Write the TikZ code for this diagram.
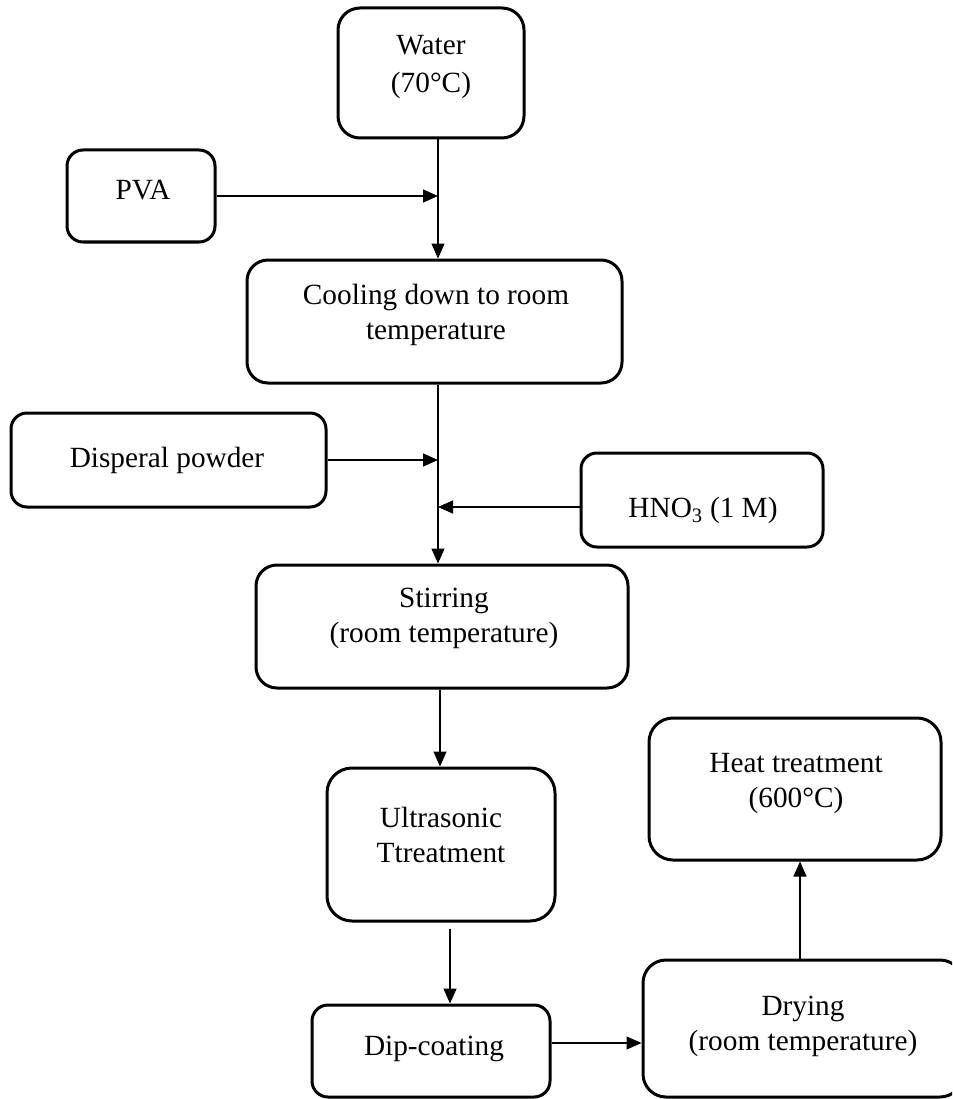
\documentclass[tikz,border=0pt]{standalone}
\usepackage{fontspec}
\setmainfont{Liberation Serif}
\usetikzlibrary{arrows.meta}
\begin{document}
\begin{tikzpicture}[x=1pt,y=-1pt,
  box/.style={draw, line width=3pt, inner sep=0pt},
  lbl/.style={font=\fontsize{29.3}{35}\selectfont, align=center, inner sep=0pt, anchor=base},
  arr/.style={line width=1.2pt, -{Triangle[length=15pt,width=13pt]}}]
\useasboundingbox (0,0) rectangle (952,1099);
\clip (0,0) rectangle (952,1099);
% boxes
\node[box, minimum width=186, minimum height=130, rounded corners=22] (water) at (431,73) {};
\node[box, minimum width=148, minimum height=92, rounded corners=16] (pva) at (141,196) {};
\node[box, minimum width=375, minimum height=123, rounded corners=21] (cooling) at (434.5,321.5) {};
\node[box, minimum width=315, minimum height=94, rounded corners=16] (disperal) at (168.5,460) {};
\node[box, minimum width=242, minimum height=94, rounded corners=16] (hno3) at (702,500) {};
\node[box, minimum width=372, minimum height=123, rounded corners=21] (stirring) at (442,626.5) {};
\node[box, minimum width=228, minimum height=153, rounded corners=25] (ultra) at (441,844.5) {};
\node[box, minimum width=292, minimum height=142, rounded corners=24] (heat) at (795,789) {};
\node[box, minimum width=238, minimum height=92, rounded corners=16] (dip) at (431,1051) {};
\node[box, minimum width=320, minimum height=137, rounded corners=23] (drying) at (803,1028.5) {};
% texts (anchor base = last line baseline)
\node[lbl] (waterT) at (431,93) {Water\\[3pt](70°C)};
\node[lbl] (pvaT) at (143,200) {PVA};
\node[lbl] (coolingT) at (436,339) {Cooling down to room\\temperature};
\node[lbl] (disperalT) at (167,467) {Disperal powder};
\node[lbl] (hno3T) at (703,517) {HNO\textsubscript{3} (1 M)};
\node[lbl] (stirringT) at (444,642) {Stirring\\(room temperature)};
\node[lbl] (ultraT) at (441,862) {Ultrasonic\\Ttreatment};
\node[lbl] (heatT) at (796,807) {Heat treatment\\(600°C)};
\node[lbl] (dipT) at (434,1055) {Dip-coating};
\node[lbl] (dryingT) at (803,1050) {Drying\\(room temperature)};
% connectors
\coordinate (sp) at (438,0);
\coordinate (s2) at (440,0);
\coordinate (s3) at (450,0);
\coordinate (s4) at (800,0);
\coordinate (hn) at ([yshift=-7pt]hno3.west);
\coordinate (u1) at ([yshift=-6pt]ultra.south);
\coordinate (d1) at ([yshift=8pt]dip.east);
\draw[arr] (water.south -| sp) -- (cooling.north -| sp);
\draw[arr] (pva.east) -- (pva.east -| sp);
\draw[arr] (cooling.south -| sp) -- (stirring.north -| sp);
\draw[arr] (disperal.east) -- (disperal.east -| sp);
\draw[arr] (hn) -- (hn -| sp);
\draw[arr] (stirring.south -| s2) -- (ultra.north -| s2);
\draw[arr] (u1 -| s3) -- (dip.north -| s3);
\draw[arr] (d1) -- (d1 -| drying.west);
\draw[arr] (drying.north -| s4) -- (heat.south -| s4);
\end{tikzpicture}
\end{document}
